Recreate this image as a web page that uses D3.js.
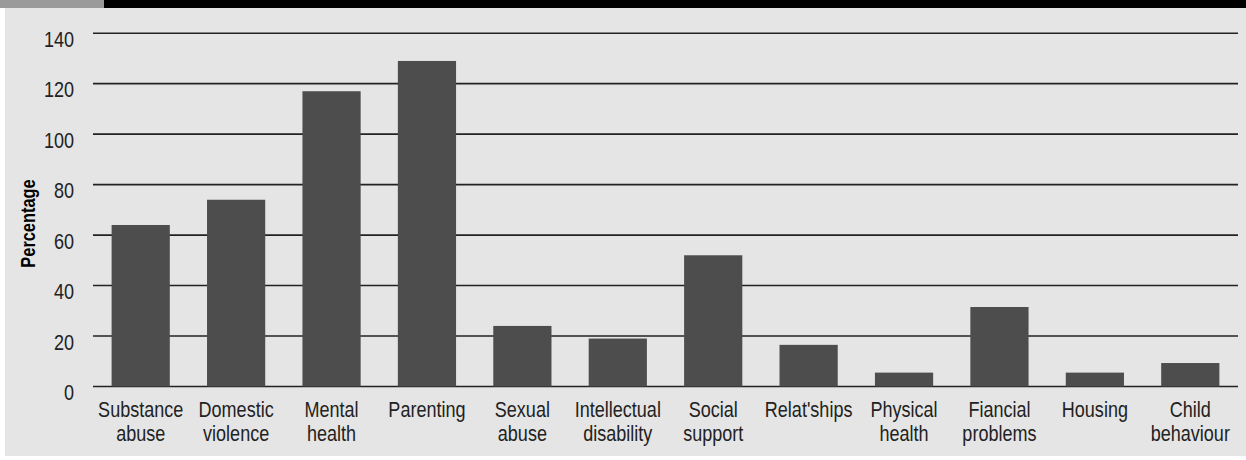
<!DOCTYPE html>
<html>
<head>
<meta charset="utf-8">
<script src="https://cdn.jsdelivr.net/npm/d3@7"></script>
<style>
  html, body { margin: 0; padding: 0; background: #fff; }
  svg { display: block; }
  text { font-family: "Liberation Sans", Arial, sans-serif; fill: #222; }
</style>
</head>
<body>
<svg id="chart" width="1246" height="460"></svg>
<script>
const categories = ['Substance abuse', 'Domestic violence', 'Mental health', 'Parenting',
  'Sexual abuse', 'Intellectual disability', 'Social support', "Relat'ships",
  'Physical health', 'Fiancial problems', 'Housing', 'Child behaviour']
const labelLines = [['Substance', 'abuse'], ['Domestic', 'violence'], ['Mental', 'health'], ['Parenting'],
  ['Sexual', 'abuse'], ['Intellectual', 'disability'], ['Social', 'support'], ["Relat'ships"],
  ['Physical', 'health'], ['Fiancial', 'problems'], ['Housing'], ['Child', 'behaviour']]
const values = [64, 74, 117, 129, 24, 19, 52, 16.5, 5.5, 31.5, 5.5, 9.3]
const yTicks = [0, 20, 40, 60, 80, 100, 120, 140]

const width = 1246
const narrow = 0.82 // condensed look, there is no narrow face installed
const svg = d3.select('#chart')

// panel background + top band
svg.append('rect').attr('x', 5).attr('y', 0).attr('width', width - 5).attr('height', 456).attr('fill', '#e5e5e5')
svg.append('rect').attr('x', 0).attr('y', 0).attr('width', width).attr('height', 8).attr('fill', '#000')
svg.append('rect').attr('x', 0).attr('y', 0).attr('width', 104).attr('height', 8).attr('fill', '#9a9a9a')

const x = d3.scaleBand()
  .domain(categories)
  .range([93, 1238])
  .paddingInner(0.39)
  .paddingOuter(0.195)

const y = d3.scaleLinear()
  .domain([0, 140])
  .range([386.5, 33.2])

// gridlines
svg.append('g')
  .selectAll('line')
  .data(yTicks)
  .join('line')
  .attr('x1', 93)
  .attr('x2', 1238)
  .attr('y1', d => y(d))
  .attr('y2', d => y(d))
  .attr('stroke', '#222')
  .attr('stroke-width', 1.6)

// tick labels
svg.append('g')
  .selectAll('text')
  .data(yTicks)
  .join('text')
  .attr('transform', d => `translate(74,${y(d) + 13.5}) scale(${narrow},1)`)
  .attr('text-anchor', 'end')
  .style('font-size', '22px')
  .text(d => d)

// bars
svg.append('g')
  .selectAll('rect')
  .data(values)
  .join('rect')
  .attr('x', (d, i) => x(categories[i]))
  .attr('y', d => y(d))
  .attr('width', x.bandwidth())
  .attr('height', d => y(0) - y(d))
  .attr('fill', '#4d4d4d')

// category labels
const lab = svg.append('g')
  .selectAll('text')
  .data(labelLines)
  .join('text')
  .attr('text-anchor', 'middle')
  .style('font-size', '22px')
  .attr('transform', (d, i) => `translate(${x(categories[i]) + x.bandwidth() / 2},417) scale(${narrow},1)`)
lab.selectAll('tspan')
  .data(d => d)
  .join('tspan')
  .attr('x', 0)
  .attr('y', (d, i) => i * 24.5)
  .text(d => d)

// axis title
svg.append('text')
  .attr('transform', `translate(35,223.5) rotate(-90) scale(${narrow},1)`)
  .attr('text-anchor', 'middle')
  .style('font-size', '20px')
  .style('font-weight', 'bold')
  .style('fill', '#000')
  .text('Percentage')
</script>
</body>
</html>
